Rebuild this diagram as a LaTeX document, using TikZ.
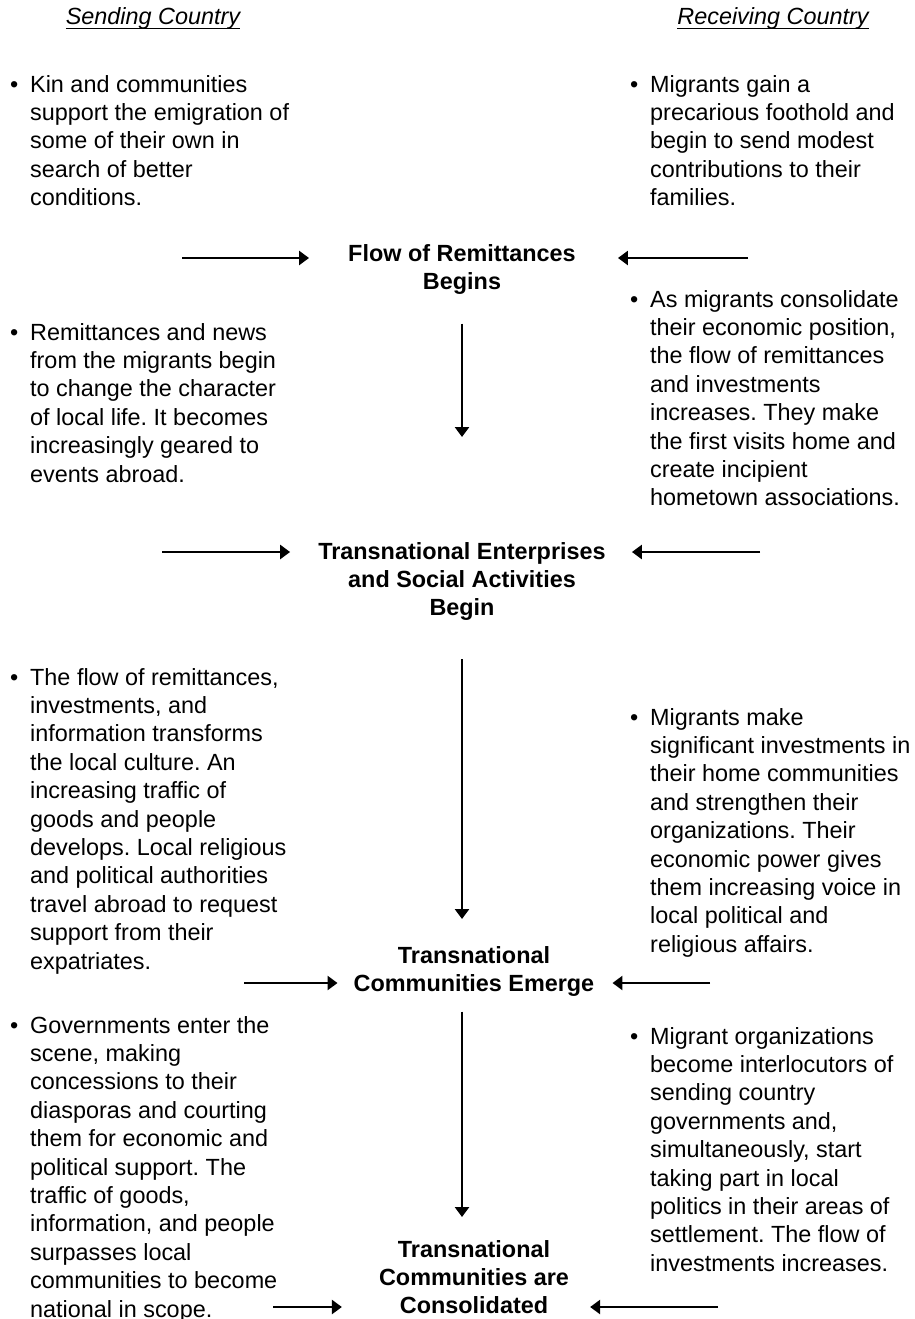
\documentclass[tikz,border=0pt]{standalone}
\usepackage{fontspec}
\setmainfont{Liberation Sans}
\usetikzlibrary{arrows.meta, positioning}
\frenchspacing
\tikzset{
	sidetext/.style={anchor=north west, inner sep=0pt, align=left, font=\fontsize{23.4}{28.4}\selectfont}
}
\tikzset{
	stagetext/.style={anchor=north, inner sep=0pt, align=center, font=\fontsize{23.4}{28.4}\selectfont\bfseries}
}
\tikzset{
	headtext/.style={anchor=base, inner sep=0pt, font=\fontsize{23.4}{28.4}\selectfont\itshape}
}
\tikzset{
	flowarrow/.style={line width=2.8pt, -{Triangle[width=14pt,length=10pt]}}
}
\newcommand{\bul}{\llap{\textbullet\hspace{12pt}}}
\newcommand{\hdrline}[1]{\setbox0\hbox{#1}\rlap{\rule[-4.5pt]{\wd0}{1.6pt}}\box0}

\begin{document}
\begin{tikzpicture}[x=1pt, y=-1pt]
      \useasboundingbox (0,0) rectangle (914,1319);
      \node[headtext] (send) at (153,25) {\hdrline{Sending Country}};
      \node[headtext] (recv) at (773,25) {\hdrline{Receiving Country}};

      \node[sidetext] (sendA) at (30,75) {\bul Kin and communities\\support the emigration of\\some of their own in\\search of better\\conditions.};
      \node[sidetext] (recvA) at (650,75) {\bul Migrants gain a\\precarious foothold and\\begin to send modest\\contributions to their\\families.};
      \node[sidetext] (sendB) at (30,323) {\bul Remittances and news\\from the migrants begin\\to change the character\\of local life. It becomes\\increasingly geared to\\events abroad.};
      \node[sidetext] (recvB) at (650,290) {\bul As migrants consolidate\\their economic position,\\the flow of remittances\\and investments\\increases. They make\\the first visits home and\\create incipient\\hometown associations.};
      \node[sidetext] (sendC) at (30,668) {\bul The flow of remittances,\\investments, and\\information transforms\\the local culture. An\\increasing traffic of\\goods and people\\develops. Local religious\\and political authorities\\travel abroad to request\\support from their\\expatriates.};
      \node[sidetext] (recvC) at (650,708) {\bul Migrants make\\significant investments in\\their home communities\\and strengthen their\\organizations. Their\\economic power gives\\them increasing voice in\\local political and\\religious affairs.};
      \node[sidetext] (sendD) at (30,1016) {\bul Governments enter the\\scene, making\\concessions to their\\diasporas and courting\\them for economic and\\political support. The\\traffic of goods,\\information, and people\\surpasses local\\communities to become\\national in scope.};
      \node[sidetext] (recvD) at (650,1027) {\bul Migrant organizations\\become interlocutors of\\sending country\\governments and,\\simultaneously, start\\taking part in local\\politics in their areas of\\settlement. The flow of\\investments increases.};

      \node[stagetext] (flow) at (462,244) {Flow of Remittances\\Begins};
      \node[stagetext] (enter) at (462,542) {Transnational Enterprises\\and Social Activities\\Begin};
      \node[stagetext] (emerge) at (474,946) {Transnational\\Communities Emerge};
      \node[stagetext] (consol) at (474,1240) {Transnational\\Communities are\\Consolidated};

      % arrows from both countries into each stage
      \coordinate (inS1) at (182,258);
      \coordinate (inR1) at (748,258);
      \coordinate (inS2) at (162,552);
      \coordinate (inR2) at (760,552);
      \coordinate (inS3) at (244,983);
      \coordinate (inR3) at (710,983);
      \coordinate (inS4) at (273,1307);
      \coordinate (inR4) at (718,1307);
      \draw[flowarrow, shorten >=39pt] (inS1) -- (inS1 -| flow.west);
      \draw[flowarrow, shorten >=42pt] (inR1) -- (inR1 -| flow.east);
      \draw[flowarrow, shorten >=28pt] (inS2) -- (inS2 -| enter.west);
      \draw[flowarrow, shorten >=26pt] (inR2) -- (inR2 -| enter.east);
      \draw[flowarrow, shorten >=16pt] (inS3) -- (inS3 -| emerge.west);
      \draw[flowarrow, shorten >=18pt] (inR3) -- (inR3 -| emerge.east);
      \draw[flowarrow, shorten >=37pt] (inS4) -- (inS4 -| consol.west);
      \draw[flowarrow, shorten >=21pt] (inR4) -- (inR4 -| consol.east);

      % stage to stage
      \draw[flowarrow, shorten <=29pt, shorten >=105pt] (flow.south) -- (enter.north);
      \draw[flowarrow, shorten <=38pt, shorten >=27pt] (enter.south) -- (enter.south |- emerge.north);
      \draw[flowarrow, shorten <=15pt, shorten >=23pt] (emerge.south -| enter.south) -- (consol.north -| enter.south);
    \end{tikzpicture}
\end{document}
